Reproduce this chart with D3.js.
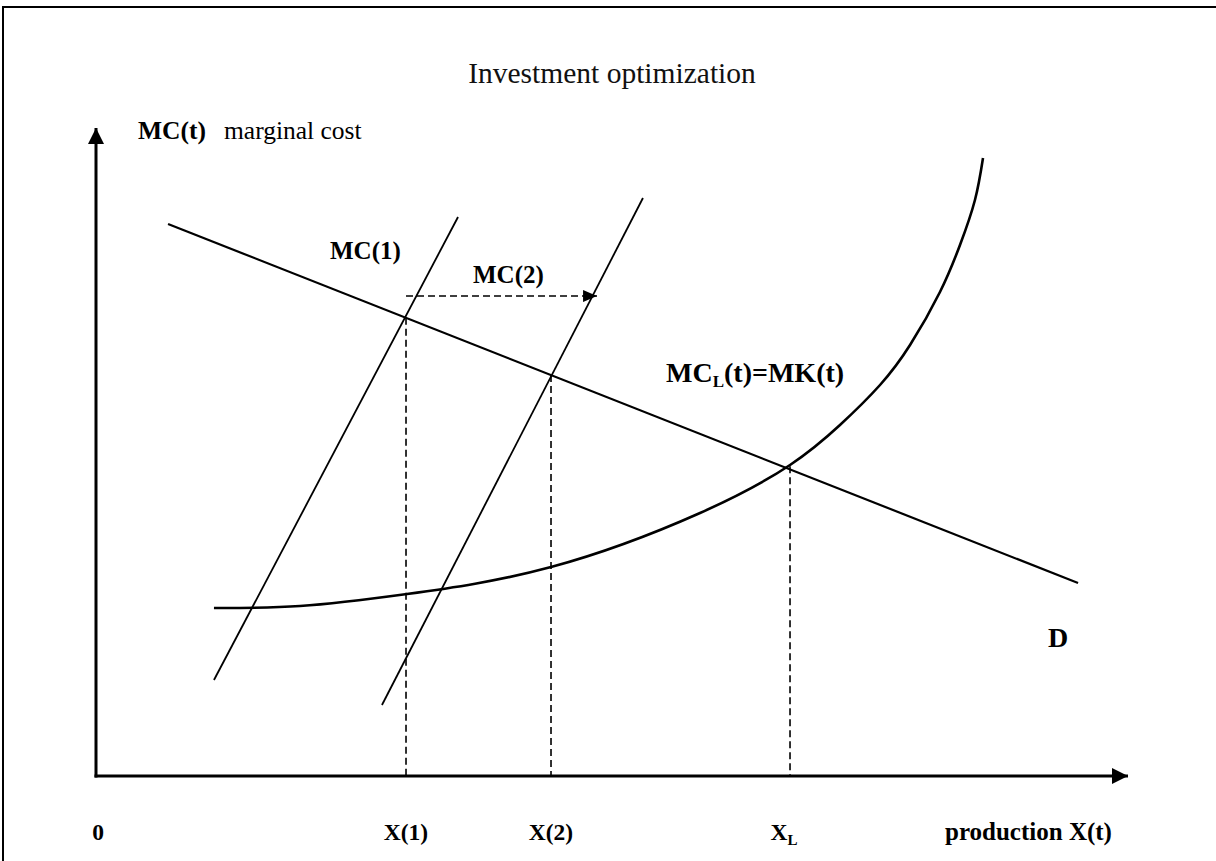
<!DOCTYPE html>
<html>
<head>
<meta charset="utf-8">
<script src="https://cdn.jsdelivr.net/npm/d3@7"></script>
<style>
  html, body { margin: 0; padding: 0; background: #fff; }
  svg { display: block; }
  text { font-family: "Liberation Serif", "Times New Roman", serif; fill: #000; }
</style>
</head>
<body>
<svg id="chart" width="1216" height="861"></svg>
<script>
// ---- Data (abstract units: x 0..100 along production axis, y 0..100 along cost axis) ----
const demandLine = [ {x: 6.98, y: 85.19}, {x: 95.16, y: 29.78} ];          // D
const mc1Line    = [ {x: 11.43, y: 14.81}, {x: 35.08, y: 86.27} ];         // MC(1)
const mc2Line    = [ {x: 27.71, y: 10.96}, {x: 53.00, y: 89.20} ];         // MC(2)
const mcLongCurve = [                                                       // MC_L(t)=MK(t)
  {x: 11.43, y: 25.93}, {x: 19.77, y: 26.23},
  {x: 30.14, y: 28.09}, {x: 44.09, y: 32.25},
  {x: 58.53, y: 40.59}, {x: 67.25, y: 48.00}, {x: 72.09, y: 54.17},
  {x: 75.97, y: 60.34}, {x: 78.88, y: 66.51}, {x: 81.78, y: 74.69},
  {x: 83.72, y: 81.94}, {x: 85.17, y: 88.89}, {x: 85.95, y: 95.37}
];
const guideX   = [30.04, 44.09, 67.25];     // X(1), X(2), X_L
const guideTop = [70.70, 61.87, 47.80];     // where the guides meet the curves
const shiftArrow = [ {x: 30.04, y: 74.07}, {x: 48.55, y: 74.07} ];
const axisLabels = [ {t: "0", x: 0.2}, {t: "X(1)", x: 30.04}, {t: "X(2)", x: 44.09} ];

const svg = d3.select("#chart");
const W = 1216, H = 861;

const x = d3.scaleLinear().domain([0, 100]).range([96, 1128]);
const y = d3.scaleLinear().domain([0, 100]).range([776, 128]);

// outer frame
svg.append("rect").attr("x", 3).attr("y", 7).attr("width", W + 10).attr("height", H + 10)
  .attr("fill", "none").attr("stroke", "#000").attr("stroke-width", 2);

// markers
const defs = svg.append("defs");
defs.append("marker").attr("id", "axisHead").attr("viewBox", "0 0 16 16")
  .attr("refX", 16).attr("refY", 8).attr("markerWidth", 16).attr("markerHeight", 16)
  .attr("markerUnits", "userSpaceOnUse").attr("orient", "auto")
  .append("path").attr("d", "M0,0 L16,8 L0,16 Z").attr("fill", "#000");
defs.append("marker").attr("id", "smallHead").attr("viewBox", "0 0 14 12")
  .attr("refX", 14).attr("refY", 6).attr("markerWidth", 14).attr("markerHeight", 12)
  .attr("markerUnits", "userSpaceOnUse").attr("orient", "auto")
  .append("path").attr("d", "M0,0 L14,6 L0,12 Z").attr("fill", "#000");

// axes
svg.append("line").attr("x1", x(0)).attr("y1", y(0) + 1.5).attr("x2", x(0)).attr("y2", y(100))
  .attr("stroke", "#000").attr("stroke-width", 3).attr("marker-end", "url(#axisHead)");
svg.append("line").attr("x1", x(0) - 1.5).attr("y1", y(0)).attr("x2", x(100)).attr("y2", y(0))
  .attr("stroke", "#000").attr("stroke-width", 3).attr("marker-end", "url(#axisHead)");

const line = d3.line().x(d => x(d.x)).y(d => y(d.y));

// dashed guides
guideX.forEach((gx, i) => {
  svg.append("line").attr("x1", x(gx)).attr("x2", x(gx))
    .attr("y1", y(guideTop[i])).attr("y2", y(0))
    .attr("stroke", "#000").attr("stroke-width", 1.6).attr("stroke-dasharray", "7,4");
});
svg.append("path").attr("d", line(shiftArrow)).attr("fill", "none")
  .attr("stroke", "#000").attr("stroke-width", 1.6).attr("stroke-dasharray", "7,4")
  .attr("marker-end", "url(#smallHead)");

// curves
svg.append("path").attr("d", line(demandLine)).attr("fill", "none")
  .attr("stroke", "#000").attr("stroke-width", 2.2);
svg.append("path").attr("d", line(mc1Line)).attr("fill", "none")
  .attr("stroke", "#000").attr("stroke-width", 1.8);
svg.append("path").attr("d", line(mc2Line)).attr("fill", "none")
  .attr("stroke", "#000").attr("stroke-width", 1.8);
const curveLine = d3.line().x(d => x(d.x)).y(d => y(d.y)).curve(d3.curveNatural);
svg.append("path").attr("d", curveLine(mcLongCurve)).attr("fill", "none")
  .attr("stroke", "#000").attr("stroke-width", 2.6);

// title
svg.append("text").attr("x", 612).attr("y", 83).attr("text-anchor", "middle")
  .attr("font-size", 29.5).style("fill", "#111").text("Investment optimization");

// y-axis label
svg.append("text").attr("x", 138).attr("y", 139).attr("font-size", 25.5)
  .attr("font-weight", "bold").text("MC(t)");
svg.append("text").attr("x", 224).attr("y", 139).attr("font-size", 25.5).text("marginal cost");

// curve labels
svg.append("text").attr("x", 330).attr("y", 259).attr("font-size", 25).attr("font-weight", "bold").text("MC(1)");
svg.append("text").attr("x", 473).attr("y", 283).attr("font-size", 25).attr("font-weight", "bold").text("MC(2)");
const mcl = svg.append("text").attr("x", 666).attr("y", 382).attr("font-size", 28).attr("font-weight", "bold");
mcl.append("tspan").text("MC");
mcl.append("tspan").attr("font-size", 17).attr("dy", 5).text("L");
mcl.append("tspan").attr("dy", -5).text("(t)=MK(t)");
svg.append("text").attr("x", 1048).attr("y", 647).attr("font-size", 28).attr("font-weight", "bold").text("D");

// x-axis labels
axisLabels.forEach(d => {
  svg.append("text").attr("x", x(d.x)).attr("y", 840).attr("text-anchor", "middle")
    .attr("font-size", 23.5).attr("font-weight", "bold").text(d.t);
});
const xl = svg.append("text").attr("x", x(67.25) - 6).attr("y", 840).attr("text-anchor", "middle")
  .attr("font-size", 23.5).attr("font-weight", "bold");
xl.append("tspan").text("X");
xl.append("tspan").attr("font-size", 15).attr("dy", 5).text("L");
svg.append("text").attr("x", 945).attr("y", 840).attr("font-size", 25).attr("font-weight", "bold")
  .text("production X(t)");
</script>
</body>
</html>
